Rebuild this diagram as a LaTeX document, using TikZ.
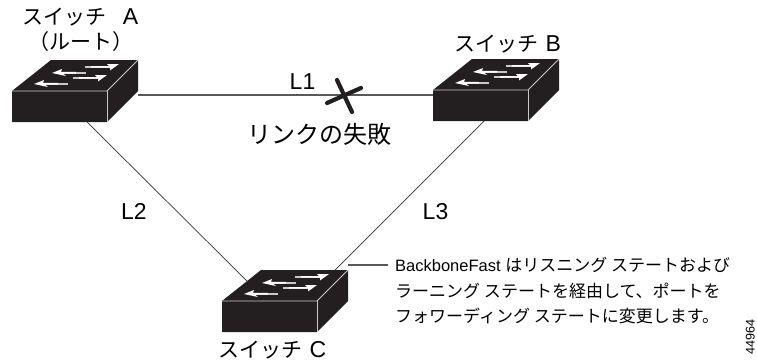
\documentclass[tikz,border=0pt]{standalone}
\usepackage{fontspec}
\setmainfont{Liberation Sans}
\newfontfamily\jpf{Noto Sans CJK JP}[Scale=1]
\newcommand{\jp}[1]{{\jpf #1}}
\newcommand{\jpn}[1]{{\fontsize{17}{25.5}\selectfont\jpf #1}}
\definecolor{swk}{HTML}{231F20}
\definecolor{swe}{HTML}{C8C8C8}
\tikzset{
  x=1pt,y=-1pt,
  link/.style={draw=black!80,line width=0.7pt},
  linkthick/.style={draw=black!65,line width=1.1pt},
  swbody/.style={fill=swk,draw=none},
  swedge/.style={draw=swe,line width=0.8pt},
  swarrow/.style={fill=white,draw=none},
  swtail/.style={fill=swe,draw=none},
  big/.style={font=\fontsize{21}{25}\selectfont,inner sep=0pt,anchor=base},
  lab/.style={font=\fontsize{23}{27}\selectfont,inner sep=0pt,anchor=base},
  note/.style={font=\fontsize{16.5}{25.5}\selectfont,inner sep=0pt,anchor=base west},
  crossm/.style={line width=4.2pt,line cap=round,draw=swk},
  switchpic/.pic={
    \fill[swbody] (0,0) -- (39,-31) -- (126,-31) -- (126,0) -- (95,31) -- (0,31) -- cycle;
    \draw[swedge] (0,0) -- (95,0) -- (126,-31);
    \draw[swedge] (95,0) -- (95,31);
    \foreach \xa/\ya in {73/-24,61/-13}{
      \fill[swtail] (\xa,\ya-0.9) -- (\xa+26,\ya-0.9) -- (\xa+26,\ya+0.7) -- (\xa,\ya+0.7) -- cycle;
      \fill[swarrow] (\xa+6,\ya-0.9) -- (\xa+24,\ya-0.9) -- (\xa+22,\ya-2.8) -- (\xa+34,\ya-3) -- (\xa+25,\ya+3.5) -- (\xa+25,\ya+0.7) -- (\xa+6,\ya+0.7) -- cycle;
    }
    \foreach \xa/\ya in {40/-18,22/-7}{
      \fill[swtail] (\xa+10,\ya-1.2) -- (\xa+34,\ya-1.2) -- (\xa+34,\ya+0.5) -- (\xa+10,\ya+0.5) -- cycle;
      \fill[swarrow] (\xa,\ya) -- (\xa+10,\ya-4) -- (\xa+9,\ya-1.2) -- (\xa+24,\ya-1.2) -- (\xa+24,\ya+0.5) -- (\xa+11,\ya+0.5) -- (\xa+14,\ya+3) -- cycle;
    }
  },
}
\begin{document}
\begin{tikzpicture}
\useasboundingbox (0,0) rectangle (757,362);
\fill[white] (0,0) rectangle (757,362);
\coordinate (swaat) at (12,91);
\coordinate (swbat) at (433,90);
\coordinate (swcat) at (222,301);
\coordinate (aright) at (138,95);
\coordinate (bleft) at (433,95);
\coordinate (abot) at (87,122);
\coordinate (cleft) at (247,281);
\coordinate (bbot) at (484,121);
\coordinate (ctop) at (335,270);
\coordinate (calla) at (348,265);
\coordinate (callb) at (388,265);
\draw[linkthick] (aright) -- (bleft);
\draw[link] (abot) -- (cleft);
\draw[link] (bbot) -- (ctop);
\draw[linkthick] (calla) -- (callb);
\pic (swa) at (swaat) {switchpic};
\pic (swb) at (swbat) {switchpic};
\pic (swc) at (swcat) {switchpic};
\draw[crossm] (337,80) -- (352,112);
\draw[crossm] (327,103) -- (361,88);
\node[big,anchor=base west] (ta) at (22,24) {\jp{スイッチ}\hspace{0.8em}{\fontsize{23}{25}\selectfont A}};
\node[big,anchor=base] (tb) at (81,49) {\jp{（ルート）}};
\node[big,anchor=base west] (tc) at (454,51) {\jp{スイッチ}\hspace{0.35em}{\fontsize{23}{25}\selectfont B}};
\node[big,anchor=base west] (td) at (218,357) {\jp{スイッチ}\hspace{0.35em}{\fontsize{23}{25}\selectfont C}};
\node[lab] (l1) at (302.5,89) {L1};
\node[lab] (l2) at (134,219) {L2};
\node[lab] (l3) at (435.5,219) {L3};
\node[big,anchor=base west,font=\fontsize{24}{27}\selectfont] (fail) at (247,143) {\jp{リンクの失敗}};
\node[note] (n1) at (395,271) {BackboneFast \jpn{はリスニング ステートおよび}};
\node[note] (n2) at (395,297) {\jpn{ラーニング ステートを経由して、ポートを}};
\node[note] (n3) at (395,322) {\jpn{フォワーディング ステートに変更します。}};
\node[font=\fontsize{12.6}{14}\selectfont,inner sep=0pt,rotate=90,anchor=base west] (num) at (754.5,355) {44964};
\end{tikzpicture}
\end{document}
